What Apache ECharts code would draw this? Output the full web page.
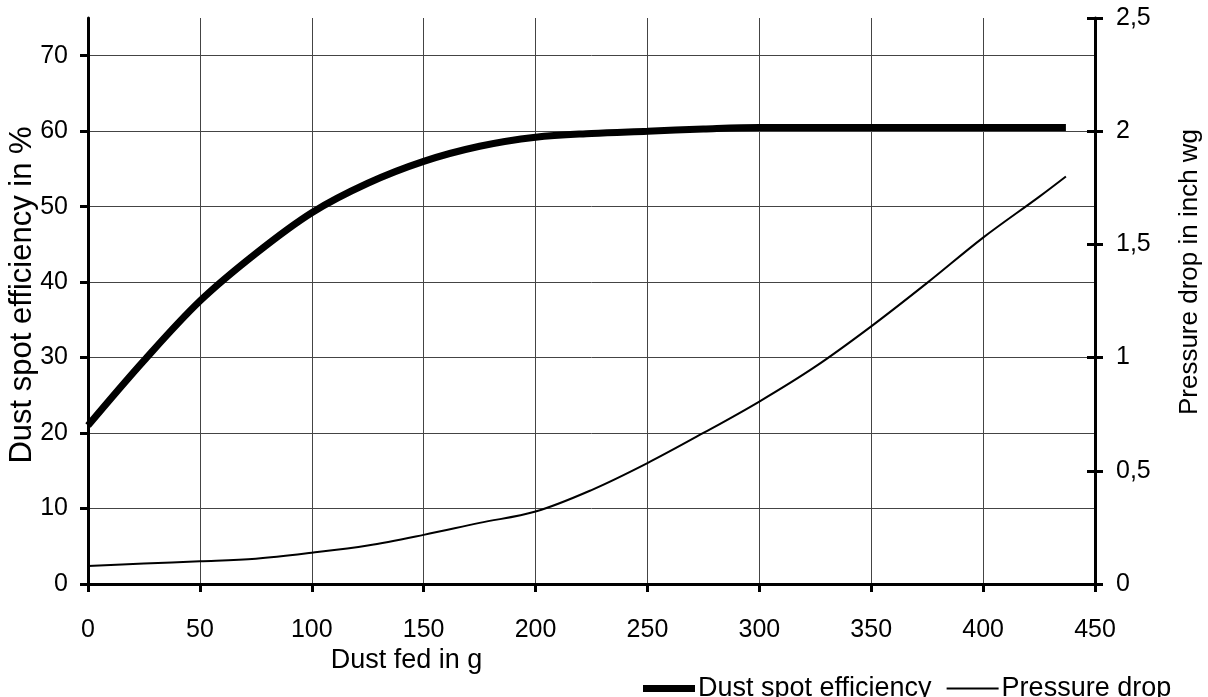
<!DOCTYPE html>
<html>
<head>
<meta charset="utf-8">
<script src="https://cdn.jsdelivr.net/npm/echarts@6/dist/echarts.min.js"></script>
<style>html,body{margin:0;padding:0;background:#fff}#c{width:1208px;height:697px}</style>
</head>
<body>
<div id="c"></div>
<script>
const dustFed = [0, 25, 50, 75, 100, 125, 150, 175, 200, 225, 250, 275, 300, 325, 350, 375, 400, 425, 437];
const efficiency = [21, 29.6, 37.5, 43.8, 49.2, 53.1, 56, 58, 59.2, 59.7, 60, 60.3, 60.5, 60.5, 60.5, 60.5, 60.5, 60.5, 60.5];
const pressureDrop = [0.08, 0.09, 0.10, 0.112, 0.138, 0.17, 0.217, 0.27, 0.32, 0.415, 0.534, 0.667, 0.806, 0.96, 1.138, 1.33, 1.53, 1.71, 1.80];
const leftLabels = [0, 10, 20, 30, 40, 50, 60, 70];
const rightLabels = [0, 0.5, 1, 1.5, 2, 2.5];
const seriesNames = ['Dust spot efficiency', 'Pressure drop'];

const FONT = 'Liberation Sans';
const FS = 25;
const NFS = 26;
const chart = echarts.init(document.getElementById('c'), null, {renderer: 'canvas'});
const axisText = {color: '#000', fontFamily: FONT, fontSize: FS};
const nameText = {color: '#000', fontFamily: FONT, fontSize: NFS};
chart.setOption({
  backgroundColor: '#fff',
  animation: false,
  textStyle: {fontFamily: FONT, color: '#000'},
  grid: {left: 88, right: 113, top: 18, bottom: 113, containLabel: false, outerBoundsMode: 'none'},
  legend: {
    data: [
      {name: seriesNames[0], icon: 'path://M0,0H50V7H0Z'},
      {name: seriesNames[1], icon: 'path://M0,0L0,0M0,2.5H50V4.5H0ZM0,7L0,7'}
    ],
    symbolKeepAspect: false,
    left: 638, top: 670,
    itemWidth: 52, itemHeight: 7, itemGap: 15,
    textStyle: {color: '#000', fontFamily: FONT, fontSize: 27, padding: [0, 0, 0, -2]}
  },
  xAxis: {
    type: 'value', min: 0, max: 450, interval: 50,
    name: 'Dust fed in g', nameLocation: 'middle', nameGap: 63, nameMoveOverlap: false,
    nameTextStyle: Object.assign({}, nameText, {fontSize: 27, padding: [0, 370, 0, 0]}),
    axisLine: {lineStyle: {color: '#000', width: 3}},
    axisTick: {show: true, length: 8, lineStyle: {color: '#000', width: 3}},
    axisLabel: Object.assign({}, axisText, {margin: 34}),
    splitLine: {show: true, lineStyle: {color: '#444', width: 1}}
  },
  yAxis: [
    {
      type: 'value', min: 0, max: 75, interval: 5, position: 'left',
      name: 'Dust spot efficiency in %', nameLocation: 'middle', nameGap: 50, nameMoveOverlap: false,
      nameTextStyle: Object.assign({}, nameText, {fontSize: 31, padding: [0, 0, 0, 12]}),
      axisLine: {show: true, lineStyle: {color: '#000', width: 3}},
      axisTick: {show: true, length: 8, customValues: leftLabels, lineStyle: {color: '#000', width: 3}},
      axisLabel: Object.assign({}, axisText, {margin: 20, customValues: leftLabels}),
      splitLine: {show: true, lineStyle: {color: '#444', width: 1}}
    },
    {
      type: 'value', min: 0, max: 2.5, interval: 0.5, position: 'right',
      name: 'Pressure drop in inch wg', nameLocation: 'middle', nameGap: 82, nameMoveOverlap: false,
      nameTextStyle: Object.assign({}, nameText, {padding: [0, 0, 0, 58]}),
      axisLine: {show: true, lineStyle: {color: '#000', width: 3}},
      axisTick: {show: true, length: 8, customValues: rightLabels, lineStyle: {color: '#000', width: 3}},
      axisLabel: Object.assign({}, axisText, {margin: 21, customValues: rightLabels, formatter: v => String(v).replace('.', ',')}),
      splitLine: {show: false}
    },
    {
      type: 'value', min: 0, max: 2.5, interval: 0.5, position: 'right',
      axisLine: {show: false},
      axisTick: {show: true, inside: true, length: 8, lineStyle: {color: '#000', width: 3}},
      axisLabel: {show: false},
      splitLine: {show: false}
    }
  ],
  series: [
    {
      name: seriesNames[0], type: 'line', yAxisIndex: 0,
      data: dustFed.map((x, i) => [x, efficiency[i]]),
      smooth: 0.35, showSymbol: false, symbol: 'none',
      lineStyle: {color: '#000', width: 7}, itemStyle: {color: '#000'}
    },
    {
      name: seriesNames[1], type: 'line', yAxisIndex: 1,
      data: dustFed.map((x, i) => [x, pressureDrop[i]]),
      smooth: 0.35, showSymbol: false, symbol: 'none',
      lineStyle: {color: '#000', width: 2}, itemStyle: {color: '#000'}
    }
  ]
});
</script>
</body>
</html>
